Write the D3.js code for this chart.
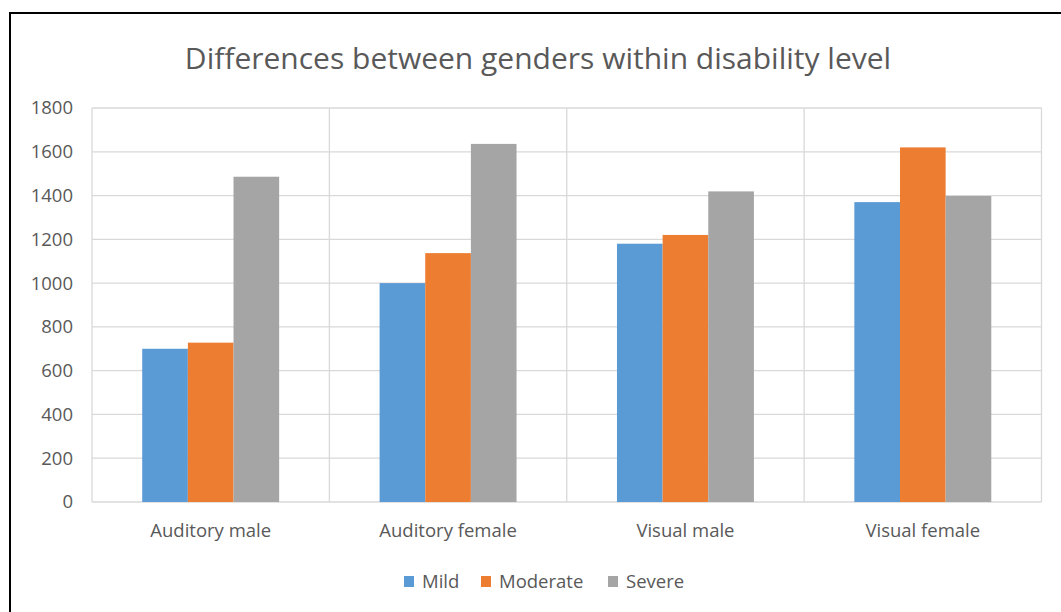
<!DOCTYPE html>
<html>
<head>
<meta charset="utf-8">
<script src="https://cdn.jsdelivr.net/npm/d3@7"></script>
<style>
  html, body { margin: 0; padding: 0; background: #fff; }
  svg { display: block; font-family: "Open Sans", "Noto Sans", sans-serif; }
</style>
</head>
<body>
<svg id="chart" width="1061" height="612"></svg>
<script>
// Chart data
const categories = ["Auditory male", "Auditory female", "Visual male", "Visual female"];
const seriesNames = ["Mild", "Moderate", "Severe"];
const mild = [700, 1000, 1180, 1370];
const moderate = [728, 1137, 1220, 1620];
const severe = [1486, 1636, 1419, 1398];
const yTicks = [0, 200, 400, 600, 800, 1000, 1200, 1400, 1600, 1800];
const colors = ["#5b9bd5", "#ed7d31", "#a5a5a5"];
const title = "Differences between genders within disability level";

const seriesValues = [mild, moderate, severe];
const rows = categories.map((c, i) => ({
  category: c,
  values: seriesNames.map((s, j) => ({ series: s, value: seriesValues[j][i] }))
}));

const svg = d3.select("#chart");
const plot = { left: 92, right: 1041.5, top: 108, bottom: 502 };
const labelSize = 18.5;

// Frame around the chart (top and left edges)
svg.append("line").attr("x1", 9).attr("x2", 1061).attr("y1", 13).attr("y2", 13)
  .attr("stroke", "#000").attr("stroke-width", 2);
svg.append("line").attr("x1", 10).attr("x2", 10).attr("y1", 12).attr("y2", 612)
  .attr("stroke", "#000").attr("stroke-width", 2);

// Title
svg.append("text")
  .attr("x", 538).attr("y", 69)
  .attr("text-anchor", "middle")
  .attr("font-size", 30)
  .attr("fill", "#595959")
  .text(title);

// Scales
const x = d3.scaleBand().domain(categories).range([plot.left, plot.right]).padding(0);
const xs = d3.scaleBand().domain(seriesNames).range([0, x.bandwidth()])
  .paddingInner(0).paddingOuter(1.1);
const y = d3.scaleLinear().domain([0, 1800]).range([plot.bottom, plot.top]);
const color = d3.scaleOrdinal().domain(seriesNames).range(colors);

// Horizontal gridlines
svg.append("g")
  .selectAll("line")
  .data(yTicks)
  .join("line")
  .attr("x1", plot.left).attr("x2", plot.right)
  .attr("y1", d => y(d)).attr("y2", d => y(d))
  .attr("stroke", "#d9d9d9").attr("stroke-width", 1.3);

// Vertical category separators
const edges = categories.map(c => x(c)).concat([plot.right]);
svg.append("g")
  .selectAll("line")
  .data(edges)
  .join("line")
  .attr("x1", d => d).attr("x2", d => d)
  .attr("y1", plot.top).attr("y2", plot.bottom)
  .attr("stroke", "#d9d9d9").attr("stroke-width", 1.3);

// Y axis labels
const yAxis = d3.axisLeft(y).tickValues(yTicks).tickSize(0).tickPadding(0).tickFormat(d3.format("d"));
const yg = svg.append("g").attr("transform", "translate(73,0)").call(yAxis);
yg.select(".domain").remove();
yg.selectAll("text").attr("font-size", labelSize).attr("fill", "#595959")
  .attr("font-family", "\"Open Sans\", sans-serif");

// Bars
svg.append("g")
  .selectAll("g")
  .data(rows)
  .join("g")
  .attr("transform", d => `translate(${x(d.category)},0)`)
  .selectAll("rect")
  .data(d => d.values)
  .join("rect")
  .attr("x", d => xs(d.series))
  .attr("width", xs.bandwidth())
  .attr("y", d => y(d.value))
  .attr("height", d => y(0) - y(d.value))
  .attr("fill", d => color(d.series));

// Category axis
const xAxis = d3.axisBottom(x).tickSize(0).tickPadding(0);
const xg = svg.append("g").attr("transform", `translate(0,${plot.bottom})`).call(xAxis);
xg.select(".domain").remove();
xg.selectAll("text").attr("font-size", labelSize).attr("fill", "#595959")
  .attr("dy", null).attr("y", 35)
  .attr("font-family", "\"Open Sans\", sans-serif");

// Legend
const legendItems = [
  { name: "Mild", x: 404 },
  { name: "Moderate", x: 481 },
  { name: "Severe", x: 608 }
];
const lg = svg.append("g");
const li = lg.selectAll("g").data(legendItems).join("g")
  .attr("transform", d => `translate(${d.x},576)`);
li.append("rect").attr("width", 10).attr("height", 11).attr("fill", d => color(d.name));
li.append("text").attr("x", 18).attr("y", 11.5)
  .attr("font-size", labelSize).attr("fill", "#595959")
  .text(d => d.name);
</script>
</body>
</html>
